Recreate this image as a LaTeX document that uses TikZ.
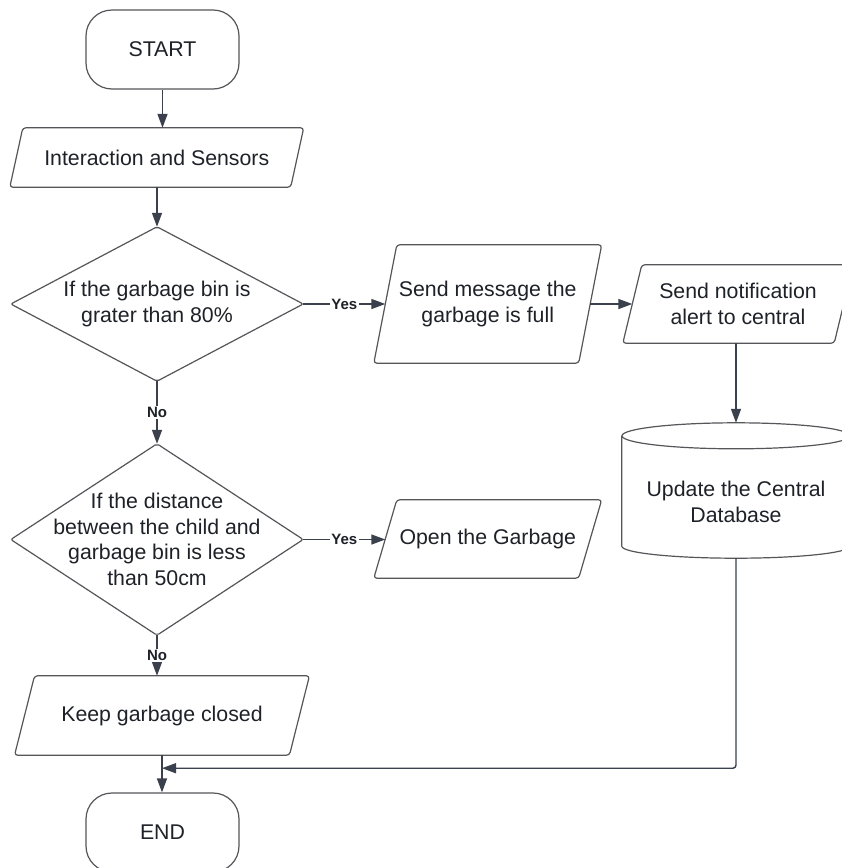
\documentclass[tikz,border=0pt]{standalone}
\usepackage{fontspec}
\setmainfont{Liberation Sans}
\usetikzlibrary{arrows.meta,calc}
\definecolor{shapecol}{RGB}{85,85,90}
\definecolor{linecol}{RGB}{58,65,76}
\definecolor{txtcol}{RGB}{30,34,40}
\begin{document}
\begin{tikzpicture}[x=1pt,y=1pt,
  box/.style={draw=none, inner sep=0pt, align=center, text=txtcol, font=\fontsize{21.3}{25.5}\selectfont},
  term/.style={box, draw=shapecol, line width=1.2pt, rounded corners=26pt, minimum width=153pt, minimum height=79pt},
  outline/.style={draw=shapecol, line width=1.2pt, line join=round},
  conn/.style={draw=linecol, line width=1.4pt, -{Triangle[length=14pt,width=10pt]}},
  lab/.style={font=\fontsize{15}{17}\selectfont\bfseries, text=txtcol, fill=white, inner sep=1.5pt}]

\fill[white] (0,0) rectangle (842,-868);
\useasboundingbox (0,0) rectangle (842,-868);
\clip (0,0) rectangle (842,-868);

% nodes
\node[term] (start) at (162.5,-49.5) {START};
\node[box, minimum width=280.5pt, minimum height=59pt] (inter) at (156.75,-157.5) {Interaction and Sensors};
\node[box, minimum width=292pt, minimum height=154pt] (d1) at (157,-304) {If the garbage bin is\\grater than 80\%};
\node[box, minimum width=204.5pt, minimum height=118pt] (msg) at (487.75,-304) {Send message the\\garbage is full};
\node[box, minimum width=211pt, minimum height=78pt] (notif) at (738,-304) {Send notification\\alert to central};
\node[box, minimum width=228pt, minimum height=135pt] (db) at (736,-490.5) {};
\node[box] (dbtxt) at ($(db.center)+(0,-11.5)$) {Update the Central\\Database};
\node[box, minimum width=204.5pt, minimum height=78pt] (open) at (487.75,-539) {Open the Garbage};
\node[box, minimum width=292pt, minimum height=191pt] (d2) at (157,-539.5) {If the distance\\between the child and\\garbage bin is less\\than 50cm};
\node[box, minimum width=274.5pt, minimum height=79pt] (keep) at (162,-715.5) {Keep garbage closed};
\node[term] (end) at (162.5,-832.5) {END};

% parallelograms
\foreach \n/\s in {inter/13, msg/23, notif/19, open/23, keep/20}
  \draw[outline, rounded corners=3pt] ($(\n.north west)+(\s/2,0)$) -- ($(\n.north east)+(\s/2,0)$) -- ($(\n.south east)+(-\s/2,0)$) -- ($(\n.south west)+(-\s/2,0)$) -- cycle;

% diamonds
\foreach \n in {d1,d2}
  \draw[outline, rounded corners=2pt] (\n.north) -- (\n.east) -- (\n.south) -- (\n.west) -- cycle;

% cylinder
\draw[outline] ($(db.north west)+(0,-13)$) -- ($(db.south west)+(0,12)$) arc[start angle=180, end angle=360, x radius=114, y radius=12] -- ($(db.north east)+(0,-13)$);
\draw[outline] ($(db.north)+(0,-13)$) ellipse [x radius=114, y radius=13];

% connectors
\draw[conn] (start.south) -- (start.south |- inter.north);
\draw[conn] (d1.north |- inter.south) -- (d1.north);
\draw[conn] (d1.east) -- node[lab]{Yes} (msg.west);
\draw[conn] (msg.east) -- (notif.west);
\draw[conn] (db.north |- notif.south) -- (db.north);
\draw[conn] (d1.south) -- node[lab]{No} (d2.north);
\draw[conn] (d2.east) -- node[lab]{Yes} (open.west |- d2.east);
\draw[conn] (d2.south) -- node[lab]{No} (d2.south |- keep.north);
\draw[conn] (keep.south) -- (keep.south |- end.north);
\coordinate (m) at ($(keep.south)+(0,-13)$);
\draw[conn, rounded corners=3pt] (db.south) |- (m);
\end{tikzpicture}
\end{document}
